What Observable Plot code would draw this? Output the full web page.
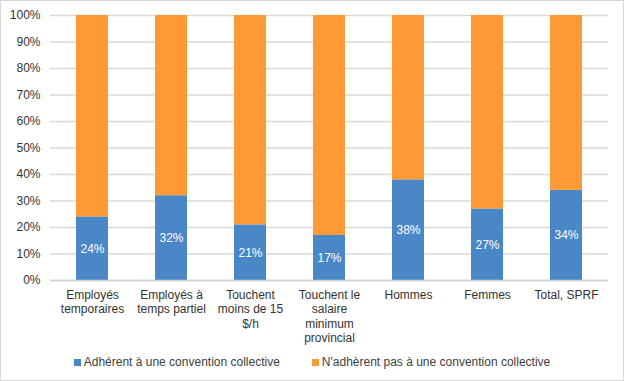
<!DOCTYPE html>
<html><head><meta charset="utf-8">
<script src="https://cdn.jsdelivr.net/npm/d3@7"></script>
<script src="https://cdn.jsdelivr.net/npm/@observablehq/plot@0.6"></script>
<style>
html,body{margin:0;padding:0;background:#fff;}
#wrap{position:relative;width:624px;height:381px;overflow:hidden;font-family:"Liberation Sans",Arial,sans-serif;}
#border{position:absolute;left:0;top:0;width:624px;height:381px;box-sizing:border-box;border:1.5px solid #d9d9d9;pointer-events:none;}
#legend{position:absolute;left:0;top:355px;width:624px;text-align:center;font-size:12px;color:#404040;white-space:nowrap;}
.sw{display:inline-block;width:7px;height:7px;margin-right:3px;vertical-align:0px;}
.item{display:inline-block;margin:0 16px;}
</style></head>
<body><div id="wrap"><div id="chart"></div><div id="legend"></div><div id="border"></div></div>
<script>
const categories = ["Employés\ntemporaires","Employés à\ntemps partiel","Touchent\nmoins de 15\n$/h","Touchent le\nsalaire\nminimum\nprovincial","Hommes","Femmes","Total, SPRF"];
const seriesNames = ["Adhérent à une convention collective","N'adhèrent pas à une convention collective"];
const adherent = [24,32,21,17,38,27,34];
const nonAdherent = [76,68,79,83,62,73,66];
const yTicks = [0,10,20,30,40,50,60,70,80,90,100];
const colors = ["#4a87c6","#fe9a36"];

const rows = [];
categories.forEach((c,i)=>{
  rows.push({cat:c, series:seriesNames[0], value:adherent[i]});
  rows.push({cat:c, series:seriesNames[1], value:nonAdherent[i]});
});
const labelRows = categories.map((c,i)=>({cat:c, series:seriesNames[0], value:adherent[i]}));

const chart = Plot.plot({
  width:624, height:345,
  marginTop:15, marginBottom:65, marginLeft:50, marginRight:16,
  style:{fontFamily:"'Liberation Sans',Arial,sans-serif", fontSize:"12px", color:"#404040", background:"#fff"},
  x:{domain:categories, paddingInner:0.6, paddingOuter:0.3, label:null},
  y:{domain:[0,100], label:null},
  color:{domain:seriesNames, range:colors},
  marks:[
    Plot.gridY(yTicks,{stroke:"#d9d9d9", strokeOpacity:1, strokeWidth:1.3}),
    Plot.barY(rows, Plot.stackY({x:"cat", y:"value", fill:"series", order:seriesNames})),
    Plot.text(labelRows, Plot.stackY({x:"cat", y:"value", text:d=>d.value+"%", fill:"white", fontSize:12})),
    Plot.axisY({ticks:yTicks, tickFormat:d=>d+"%", tickSize:0, tickPadding:10, fontSize:12, fill:"#333"}),
    Plot.axisX({tickSize:0, tickPadding:8, fontSize:12, lineHeight:1.2, fill:"#333"}),
    Plot.ruleY([0],{stroke:"#d0d0d0", strokeWidth:1.3})
  ]
});
document.getElementById("chart").appendChild(chart);

const leg = document.getElementById("legend");
seriesNames.forEach((s,i)=>{
  const span = document.createElement("span");
  span.className="item";
  span.innerHTML = `<span class="sw" style="background:${colors[i]}"></span>${s}`;
  leg.appendChild(span);
});
</script></body></html>
